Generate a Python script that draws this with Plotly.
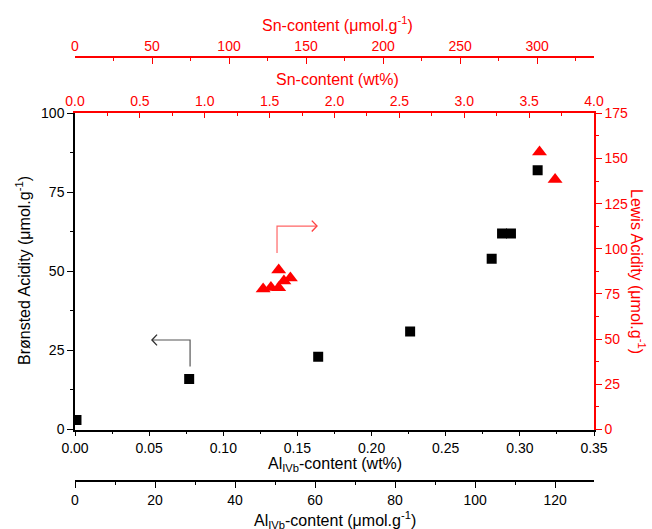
import plotly.graph_objects as go

# ---- data ----
al_wt = [0.001, 0.077, 0.164, 0.226, 0.281, 0.288, 0.294, 0.312]      # Al_IVb content (wt%)
bronsted = [3, 16, 23, 31, 54, 62, 62, 82]                           # Bronsted acidity (umol/g)
sn_wt = [1.45, 1.51, 1.57, 1.57, 1.61, 1.66, 3.58, 3.70]              # Sn content (wt%)
lewis = [77.8, 78.6, 78.4, 88.3, 82.2, 83.9, 153.6, 138.3]            # Lewis acidity (umol/g)

# axis ranges
al_wt_range = [0, 0.35]
al_umol_range = [0, 0.35 / 100 / 26.98 * 1e6]   # ~129.7 umol/g
sn_wt_range = [0, 4.0]
sn_umol_range = [0, 4.0 / 100 / 118.71 * 1e6]   # ~337 umol/g
br_range = [0, 100]
lw_range = [0, 175]

# arrows (data coords): vertical stem then horizontal, with open chevron
black_arrow_x = [0.0776, 0.0776, 0.0519]
black_arrow_y = [19.9, 28.3, 28.3]
red_arrow_x = [1.557, 1.557, 1.865]
red_arrow_y = [97.7, 112.6, 112.6]

RED = "#ff0000"
FONT = "Liberation Sans, Arial, sans-serif"

fig = go.Figure()
fig.add_trace(go.Scatter(x=al_wt, y=bronsted, mode="markers", xaxis="x", yaxis="y",
                         marker=dict(symbol="square", size=10, color="black"),
                         showlegend=False, hoverinfo="x+y"))
fig.add_trace(go.Scatter(x=sn_wt, y=lewis, mode="markers", xaxis="x2", yaxis="y2",
                         marker=dict(symbol="triangle-up", size=13, color=RED),
                         showlegend=False, hoverinfo="x+y"))
# arrows
fig.add_trace(go.Scatter(x=black_arrow_x, y=black_arrow_y, mode="lines", xaxis="x", yaxis="y",
                         line=dict(color="#555555", width=1.2), showlegend=False, hoverinfo="skip"))
fig.add_trace(go.Scatter(x=red_arrow_x, y=red_arrow_y, mode="lines", xaxis="x2", yaxis="y2",
                         line=dict(color="#ff6666", width=1.2), showlegend=False, hoverinfo="skip"))

# chevrons via annotations-free path shapes (relative to arrow ends)
bx, by = black_arrow_x[-1], black_arrow_y[-1]
dx_b = 0.0034; dy_b = 1.7
fig.add_shape(type="path", xref="x", yref="y",
              path=f"M {bx+dx_b},{by+dy_b} L {bx},{by} L {bx+dx_b},{by-dy_b}",
              line=dict(color="#333333", width=1.4))
rx, ry = red_arrow_x[-1], red_arrow_y[-1]
dx_r = 0.04; dy_r = 3.0
fig.add_shape(type="path", xref="x2", yref="y2",
              path=f"M {rx-dx_r},{ry+dy_r} L {rx},{ry} L {rx-dx_r},{ry-dy_r}",
              line=dict(color="#ff4444", width=1.4))

# layout geometry
L, R, T, B = 75, 58, 57, 48
W, H = 652, 529
ph = H - T - B
y_top_px, y_bot_px = 113.3, 429.5
dom = [(H - B - y_bot_px) / ph, (H - B - y_top_px) / ph]

tickfont = dict(family=FONT, size=14, color="black")
redfont = dict(family=FONT, size=14, color=RED)

fig.update_layout(
    width=W, height=H, margin=dict(l=L, r=R, t=T, b=B),
    paper_bgcolor="white", plot_bgcolor="white",
    font=dict(family=FONT, size=14),
    xaxis=dict(range=al_wt_range, domain=[0, 1], anchor="y", side="bottom",
               showline=True, linecolor="black", linewidth=1.5, showgrid=False, zeroline=False,
               ticks="outside", ticklen=5, tickwidth=1.2, tickcolor="black",
               dtick=0.05, tick0=0, tickformat=".2f", tickfont=tickfont,
               minor=dict(dtick=0.025, ticks="outside", ticklen=3, tickcolor="black", tickwidth=1)),
    xaxis2=dict(range=sn_wt_range, overlaying="x", anchor="y", side="top",
                showline=True, linecolor=RED, linewidth=1.5, showgrid=False, zeroline=False,
                ticks="inside", ticklen=5, tickwidth=1.2, tickcolor=RED,
                dtick=0.5, tick0=0, tickformat=".1f", tickfont=redfont,
                minor=dict(dtick=0.25, ticks="inside", ticklen=3, tickcolor=RED, tickwidth=1)),
    xaxis3=dict(range=al_umol_range, overlaying="x", anchor="free", position=0, side="bottom",
                showline=True, linecolor="black", linewidth=1.5, showgrid=False, zeroline=False,
                ticks="outside", ticklen=6, tickwidth=1.2, tickcolor="black",
                dtick=20, tick0=0, tickfont=tickfont,
                minor=dict(dtick=10, ticks="outside", ticklen=3, tickcolor="black", tickwidth=1)),
    xaxis4=dict(range=sn_umol_range, overlaying="x", anchor="free", position=1, side="top",
                showline=True, linecolor=RED, linewidth=1.5, showgrid=False, zeroline=False,
                ticks="inside", ticklen=6, tickwidth=1.2, tickcolor=RED,
                dtick=50, tick0=0, tickfont=redfont,
                minor=dict(dtick=25, ticks="inside", ticklen=3, tickcolor=RED, tickwidth=1)),
    yaxis=dict(range=br_range, domain=dom, anchor="x", side="left",
               showline=True, linecolor="black", linewidth=1.5, showgrid=False, zeroline=False,
               ticks="outside", ticklen=6, tickwidth=1.2, tickcolor="black",
               dtick=25, tick0=0, tickfont=tickfont,
               minor=dict(dtick=12.5, ticks="outside", ticklen=3, tickcolor="black", tickwidth=1)),
    yaxis2=dict(range=lw_range, overlaying="y", anchor="x", side="right",
                showline=True, linecolor=RED, linewidth=1.5, showgrid=False, zeroline=False,
                ticks="outside", ticklen=6, tickwidth=1.2, tickcolor=RED,
                dtick=25, tick0=0, tickfont=redfont,
                minor=dict(dtick=12.5, ticks="outside", ticklen=3, tickcolor=RED, tickwidth=1)),
)

# helper traces so the extra axes are drawn (no visible marks)
fig.add_trace(go.Scatter(x=[None], y=[None], xaxis="x3", yaxis="y", showlegend=False, hoverinfo="skip"))
fig.add_trace(go.Scatter(x=[None], y=[None], xaxis="x4", yaxis="y2", showlegend=False, hoverinfo="skip"))

def py2paper(py):
    return (H - B - py) / ph

def px2paper(px):
    return (px - L) / (W - L - R)

titles = [
    ("Sn-content (\u03bcmol.g<sup>-1</sup>)", 337, 24, 0, RED),
    ("Sn-content (wt%)", 337, 79, 0, RED),
    ("Al<sub>IVb</sub>-content (wt%)", 335, 464, 0, "black"),
    ("Al<sub>IVb</sub>-content (\u03bcmol.g<sup>-1</sup>)", 335, 520, 0, "black"),
    ("Br\u00f8nsted Acidity (\u03bcmol.g<sup>-1</sup>)", 23, 271, -90, "black"),
    ("Lewis Acidity (\u03bcmol.g<sup>-1</sup>)", 638, 271, 90, RED),
]
for text, px, py, ang, col in titles:
    fig.add_annotation(text=text, xref="paper", yref="paper",
                       x=px2paper(px), y=py2paper(py), showarrow=False,
                       textangle=ang, xanchor="center", yanchor="middle",
                       font=dict(family=FONT, size=16, color=col))

fig.write_html("out.html")
